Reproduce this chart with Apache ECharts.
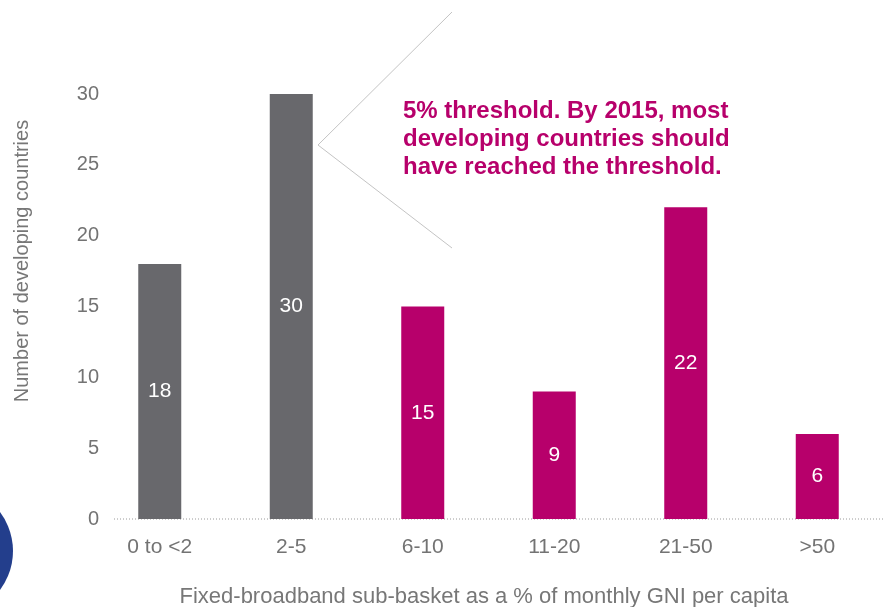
<!DOCTYPE html>
<html>
<head>
<meta charset="utf-8">
<script src="https://cdn.jsdelivr.net/npm/echarts@6/dist/echarts.min.js"></script>
<style>
html,body{margin:0;padding:0;background:#fff;}
#chart{width:883px;height:607px;}
</style>
</head>
<body>
<div id="chart"></div>
<script>
const categories = ['0 to <2', '2-5', '6-10', '11-20', '21-50', '>50'];
const countries = [18, 30, 15, 9, 22, 6];
const barColors = ['#68686c', '#68686c', '#b7006b', '#b7006b', '#b7006b', '#b7006b'];
const yTicks = [0, 5, 10, 15, 20, 25, 30];
const yTitle = 'Number of developing countries';
const xTitle = 'Fixed-broadband sub-basket as a % of monthly GNI per capita';
const noteLines = ['5% threshold. By 2015, most', 'developing countries should', 'have reached the threshold.'];

const FONT = '"Liberation Sans", Arial, sans-serif';
const chart = echarts.init(document.getElementById('chart'), null, {renderer: 'canvas'});

chart.setOption({
  animation: false,
  backgroundColor: '#fff',
  grid: {left: 94, right: -9, top: 94, bottom: 88, containLabel: false},
  xAxis: {
    type: 'category',
    data: categories,
    axisLine: {show: false},
    axisTick: {show: false},
    axisLabel: {color: '#737373', fontSize: 21, fontFamily: FONT, margin: 18}
  },
  yAxis: {
    type: 'value',
    min: yTicks[0],
    max: yTicks[yTicks.length - 1],
    interval: yTicks[1] - yTicks[0],
    axisLine: {show: false},
    axisTick: {show: false},
    splitLine: {show: false},
    axisLabel: {color: '#737373', fontSize: 20, fontFamily: FONT, margin: -5}
  },
  series: [{
    type: 'bar',
    barWidth: 43,
    data: countries.map((v, i) => ({value: v, itemStyle: {color: barColors[i]}})),
    label: {
      show: true,
      position: 'inside',
      color: '#fff',
      fontSize: 21,
      fontFamily: FONT
    }
  }]
});

const y0 = chart.convertToPixel({yAxisIndex: 0}, 0);

chart.setOption({
  graphic: [
    {type: 'line', silent: true, shape: {x1: 114, y1: y0, x2: 883, y2: y0},
     style: {stroke: '#9a9a9a', lineWidth: 1, lineDash: [1, 2]}, z: 0},
    {type: 'polyline', silent: true,
     shape: {points: [[452, 12], [318, 145], [452, 248]]},
     style: {stroke: '#c4c4c4', lineWidth: 1, fill: null}},
    {type: 'circle', silent: true, shape: {cx: -52, cy: 551, r: 65},
     style: {fill: '#233e8c'}},
    {type: 'text', silent: true, x: 22, y: 261, rotation: Math.PI / 2,
     style: {text: yTitle, fill: '#777', font: '20px ' + FONT, textAlign: 'center', textVerticalAlign: 'middle'}},
    {type: 'text', silent: true, x: 484, y: 597,
     style: {text: xTitle, fill: '#777', font: '22px ' + FONT, textAlign: 'center', textVerticalAlign: 'middle'}},
    {type: 'text', silent: true, x: 403, y: 97,
     style: {text: noteLines.join('\n'), fill: '#b7006b', font: 'bold 24px ' + FONT, lineHeight: 28, textAlign: 'left', textVerticalAlign: 'top'}}
  ]
});
</script>
</body>
</html>
